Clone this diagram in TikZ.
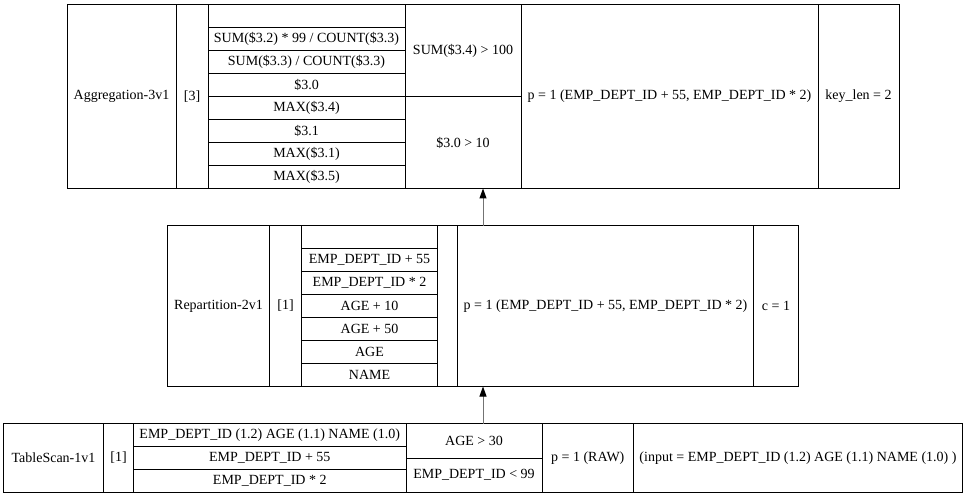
\documentclass[tikz,border=0pt]{standalone}
\usepackage{fontspec}
\setmainfont{Liberation Serif}
\usetikzlibrary{arrows.meta}

% one table cell: name, x1, y1, x2, y2, text (coordinates in pt, y downwards)
\newcommand\tcell[6]{%
  \pgfmathsetmacro\cellw{#4-#2}%
  \pgfmathsetmacro\cellh{#5-#3}%
  \node[cell, minimum width=\cellw pt, minimum height=\cellh pt] (#1) at (#2,#3) {#6};}

\tikzset{
  cell/.style={draw, line width=1pt, inner sep=0pt, outer sep=0pt,
    anchor=north west, align=center,
    font=\fontsize{14pt}{16pt}\selectfont},
  flow/.style={line width=1pt, draw=black!55,
    -{Triangle[length=10pt, width=7pt, black]}}
}

\begin{document}
\begin{tikzpicture}[x=1pt, y=-1pt]
\useasboundingbox (0,0) rectangle (966,497);

% ---------- Aggregation-3v1 ----------
\tcell{agg}{67}{4.5}{899}{188.5}{}
\tcell{aggname}{67}{4.5}{176}{188.5}{Aggregation-3v1}
\tcell{aggid}{176}{4.5}{208}{188.5}{[3]}
\tcell{aggc0}{208}{4.5}{405}{27.5}{}
\tcell{aggc1}{208}{27.5}{405}{50.5}{SUM(\$3.2) * 99 / COUNT(\$3.3)}
\tcell{aggc2}{208}{50.5}{405}{73.5}{SUM(\$3.3) / COUNT(\$3.3)}
\tcell{aggc3}{208}{73.5}{405}{96.5}{\$3.0}
\tcell{aggc4}{208}{96.5}{405}{119.5}{MAX(\$3.4)}
\tcell{aggc5}{208}{119.5}{405}{142.5}{\$3.1}
\tcell{aggc6}{208}{142.5}{405}{165.5}{MAX(\$3.1)}
\tcell{aggc7}{208}{165.5}{405}{188.5}{MAX(\$3.5)}
\tcell{aggf1}{405}{4.5}{521}{96.5}{SUM(\$3.4) > 100}
\tcell{aggf2}{405}{96.5}{521}{188.5}{\$3.0 > 10}
\tcell{aggpart}{521}{4.5}{818}{188.5}{p = 1 (EMP\_DEPT\_ID + 55, EMP\_DEPT\_ID * 2)}
\tcell{aggkey}{818}{4.5}{899}{188.5}{key\_len = 2}

% ---------- Repartition-2v1 ----------
\tcell{rep}{167.5}{225.5}{798.5}{386.5}{}
\tcell{repname}{167.5}{225.5}{269.5}{386.5}{Repartition-2v1}
\tcell{repid}{269.5}{225.5}{301.5}{386.5}{[1]}
\tcell{repc0}{301.5}{225.5}{437.5}{248.5}{}
\tcell{repc1}{301.5}{248.5}{437.5}{271.5}{EMP\_DEPT\_ID + 55}
\tcell{repc2}{301.5}{271.5}{437.5}{294.5}{EMP\_DEPT\_ID * 2}
\tcell{repc3}{301.5}{294.5}{437.5}{317.5}{AGE + 10}
\tcell{repc4}{301.5}{317.5}{437.5}{340.5}{AGE + 50}
\tcell{repc5}{301.5}{340.5}{437.5}{363.5}{AGE}
\tcell{repc6}{301.5}{363.5}{437.5}{386.5}{NAME}
\tcell{repgap}{437.5}{225.5}{457.5}{386.5}{}
\tcell{reppart}{457.5}{225.5}{753.5}{386.5}{p = 1 (EMP\_DEPT\_ID + 55, EMP\_DEPT\_ID * 2)}
\tcell{repcount}{753.5}{225.5}{798.5}{386.5}{c = 1}

% ---------- TableScan-1v1 ----------
\tcell{scan}{3.5}{423.5}{962.5}{492.5}{}
\tcell{scanname}{3.5}{423.5}{103.5}{492.5}{TableScan-1v1}
\tcell{scanid}{103.5}{423.5}{133.5}{492.5}{[1]}
\tcell{scanc0}{133.5}{423.5}{406}{446.5}{EMP\_DEPT\_ID (1.2) AGE (1.1) NAME (1.0)}
\tcell{scanc1}{133.5}{446.5}{406}{469.5}{EMP\_DEPT\_ID + 55}
\tcell{scanc2}{133.5}{469.5}{406}{492.5}{EMP\_DEPT\_ID * 2}
\tcell{scanf1}{406}{423.5}{542}{458}{AGE > 30}
\tcell{scanf2}{406}{458}{542}{492.5}{EMP\_DEPT\_ID < 99}
\tcell{scanpart}{542}{423.5}{633.5}{492.5}{p = 1 (RAW)}
\tcell{scaninput}{633.5}{423.5}{962.5}{492.5}{(input = EMP\_DEPT\_ID (1.2) AGE (1.1) NAME (1.0) )}

% ---------- data flow ----------
\draw[flow] (scan.north) -- (rep.south);
\draw[flow] (rep.north) -- (agg.south);
\end{tikzpicture}
\end{document}
